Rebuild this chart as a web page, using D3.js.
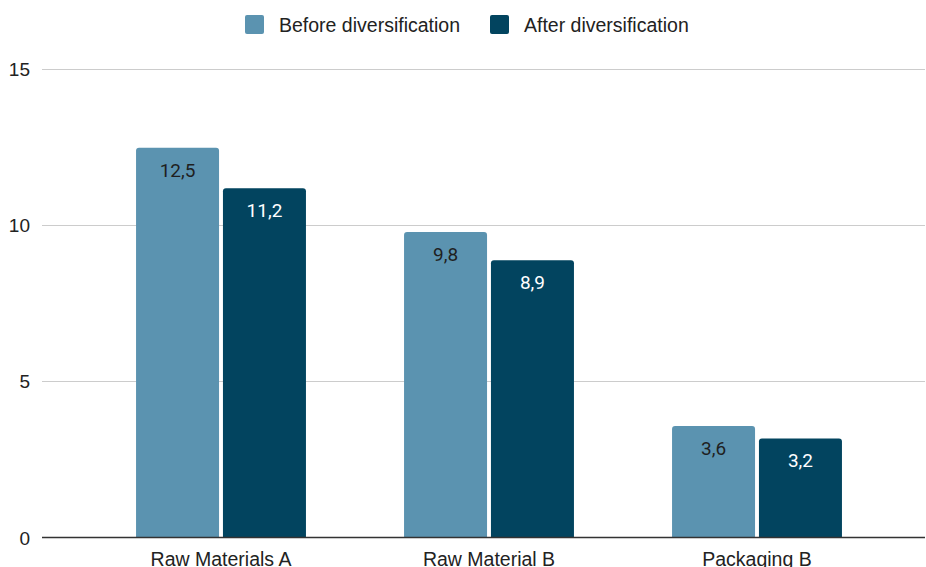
<!DOCTYPE html>
<html>
<head>
<meta charset="utf-8">
<script src="https://cdn.jsdelivr.net/npm/d3@7"></script>
<style>
  body { margin: 0; background: #fff; }
  svg { display: block; }
</style>
</head>
<body>
<div id="chart"></div>
<script>
var categories = ["Raw Materials A", "Raw Material B", "Packaging B"];
var seriesNames = ["Before diversification", "After diversification"];
var before = [12.5, 9.8, 3.6];
var after = [11.2, 8.9, 3.2];
var yTicks = [0, 5, 10, 15];

var width = 926,
    height = 567;

var colors = ["#5b93b0", "#02445f"],
    labelColors = ["#1f1f1f", "#ffffff"];

var svg = d3.select("#chart").append("svg")
    .attr("width", width)
    .attr("height", height);

var y = d3.scaleLinear()
    .domain([0, 15])
    .range([537.5, 68.5]);

var x0 = d3.scaleBand()
    .domain(categories)
    .range([87, 891])
    .paddingInner(0.366)
    .paddingOuter(0.183);

var x1 = d3.scaleBand()
    .domain([0, 1])
    .range([0, x0.bandwidth()])
    .paddingInner(0.045);

// gridlines
svg.append("g")
    .selectAll("line")
    .data(yTicks.filter(function(d) { return d > 0; }))
    .enter().append("line")
    .attr("x1", 42)
    .attr("x2", 925)
    .attr("y1", function(d) { return Math.round(y(d)) + 0.5; })
    .attr("y2", function(d) { return Math.round(y(d)) + 0.5; })
    .style("stroke", "#cccccc")
    .style("stroke-width", 1);

// y tick labels
svg.append("g")
    .selectAll("text")
    .data(yTicks)
    .enter().append("text")
    .attr("x", 30)
    .attr("y", function(d) { return y(d) + 7; })
    .attr("text-anchor", "end")
    .style("font-family", "Liberation Sans, Arial, sans-serif")
    .style("font-size", "19px")
    .style("fill", "#222")
    .text(function(d) { return d; });

// rounded-top bar path
function barPath(bx, by, bw, bh, r) {
    r = Math.min(r, bh);
    return "M" + bx + "," + (by + bh) +
        "V" + (by + r) +
        "Q" + bx + "," + by + " " + (bx + r) + "," + by +
        "H" + (bx + bw - r) +
        "Q" + (bx + bw) + "," + by + " " + (bx + bw) + "," + (by + r) +
        "V" + (by + bh) + "Z";
}

var rows = categories.map(function(c, i) {
    return { cat: c, values: [before[i], after[i]] };
});

var groups = svg.append("g")
    .selectAll("g")
    .data(rows)
    .enter().append("g")
    .attr("transform", function(d) { return "translate(" + x0(d.cat) + ",0)"; });

groups.selectAll("path")
    .data(function(d) { return d.values.map(function(v, s) { return { v: v, s: s }; }); })
    .enter().append("path")
    .attr("d", function(d) {
        return barPath(x1(d.s), y(d.v) + 1, x1.bandwidth(), y(0) - y(d.v) - 1, 3);
    })
    .style("fill", function(d) { return colors[d.s]; });

groups.selectAll("text")
    .data(function(d) { return d.values.map(function(v, s) { return { v: v, s: s }; }); })
    .enter().append("text")
    .attr("x", function(d) { return x1(d.s) + x1.bandwidth() / 2; })
    .attr("y", function(d) { return y(d.v) + 30; })
    .attr("text-anchor", "middle")
    .style("font-family", "Roboto, sans-serif")
    .style("font-size", "19px")
    .style("fill", function(d) { return labelColors[d.s]; })
    .text(function(d) { return String(d.v).replace(".", ","); });

// baseline
svg.append("line")
    .attr("x1", 42)
    .attr("x2", 925)
    .attr("y1", 537.5)
    .attr("y2", 537.5)
    .style("stroke", "#333")
    .style("stroke-width", 1.3);

// category labels
svg.append("g")
    .selectAll("text")
    .data(categories)
    .enter().append("text")
    .attr("x", function(d) { return x0(d) + x0.bandwidth() / 2; })
    .attr("y", 566)
    .attr("text-anchor", "middle")
    .style("font-family", "Liberation Sans, Arial, sans-serif")
    .style("font-size", "19.5px")
    .style("fill", "#222")
    .text(function(d) { return d; });

// legend
var legendX = [245, 490];
var legend = svg.append("g")
    .selectAll("g")
    .data(seriesNames)
    .enter().append("g")
    .attr("transform", function(d, i) { return "translate(" + legendX[i] + ",15)"; });

legend.append("rect")
    .attr("width", 19)
    .attr("height", 19)
    .attr("rx", 2)
    .style("fill", function(d, i) { return colors[i]; });

legend.append("text")
    .attr("x", 34)
    .attr("y", 17)
    .style("font-family", "Liberation Sans, Arial, sans-serif")
    .style("font-size", "19.5px")
    .style("fill", "#222")
    .text(function(d) { return d; });
</script>
</body>
</html>
